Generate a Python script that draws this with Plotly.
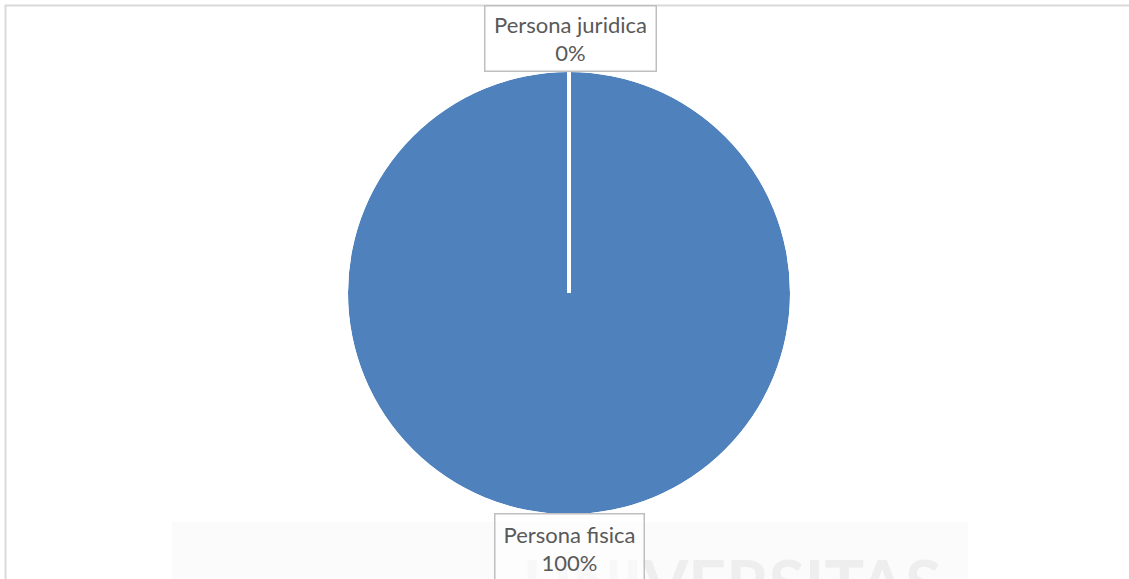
import plotly.graph_objects as go

# data
labels = ["Persona juridica", "Persona fisica"]
values = [0, 100]
slice_color = "#4f81bd"

W, H = 1129, 579
total = sum(values)
shares = [v / total for v in values]
texts = [f"{lab}<br>{s:.0%}" for lab, s in zip(labels, shares)]

# slice angles (clockwise from 12 o'clock)
starts, acc = [], 0.0
for s in shares:
    starts.append(acc * 360)
    acc += s
widths = [s * 360 for s in shares]
centers = [a + w / 2 for a, w in zip(starts, widths)]

fig = go.Figure()
fig.add_trace(go.Barpolar(
    r=[1] * len(values), theta=centers, width=widths, base=0,
    marker=dict(color=slice_color, line=dict(color="white", width=0)),
    text=labels, hoverinfo="text", showlegend=False,
))
# white slice boundaries
for a in starts:
    fig.add_trace(go.Scatterpolar(
        r=[0, 1], theta=[a, a], mode="lines",
        line=dict(color="white", width=4), hoverinfo="skip", showlegend=False,
    ))

# faint watermark at the bottom
fig.add_shape(type="rect", xref="paper", yref="paper", layer="below",
              x0=172 / W, x1=968 / W, y0=0, y1=1 - 522 / H,
              fillcolor="#fbfbfb", line_width=0)
fig.add_annotation(text="<b>UNIVERSITAS</b>", xref="paper", yref="paper",
                   x=732 / W, y=1 - 542 / H, xanchor="center", yanchor="top",
                   showarrow=False, font=dict(family="Lato", size=66, color="#eeeeee"))

# chart border (clipped at right and bottom)
fig.add_shape(type="rect", xref="paper", yref="paper",
              x0=5.5 / W, x1=1.05, y0=-0.05, y1=1 - 5.5 / H,
              line=dict(color="#d9d9d9", width=2))

# label boxes
fig.add_annotation(text=texts[0], xref="paper", yref="paper",
                   x=570.5 / W, y=1 - 38 / H, xanchor="center", yanchor="middle",
                   showarrow=False, width=168, height=62,
                   bgcolor="white", bordercolor="#bfbfbf", borderwidth=1.5,
                   font=dict(family="Lato", size=22, color="#595959"))
fig.add_annotation(text=texts[1], xref="paper", yref="paper",
                   x=569.5 / W, y=1 - 513 / H, xanchor="center", yanchor="top",
                   showarrow=False, width=146, height=66,
                   bgcolor="rgba(255,255,255,0.6)", bordercolor="#bfbfbf", borderwidth=1.5,
                   font=dict(family="Lato", size=22, color="#595959"))

fig.update_layout(
    width=W, height=H,
    margin=dict(l=0, r=0, t=0, b=0),
    paper_bgcolor="white", plot_bgcolor="white",
    polar=dict(
        domain=dict(x=[348 / W, 790 / W], y=[(H - 514) / H, (H - 72) / H]),
        bgcolor="rgba(0,0,0,0)",
        angularaxis=dict(rotation=90, direction="clockwise", visible=False),
        radialaxis=dict(range=[0, 1], visible=False),
    ),
)

fig.write_html("out.html", config={"displayModeBar": False},
               post_script="document.body.style.margin='0';document.body.style.overflow='hidden';")
